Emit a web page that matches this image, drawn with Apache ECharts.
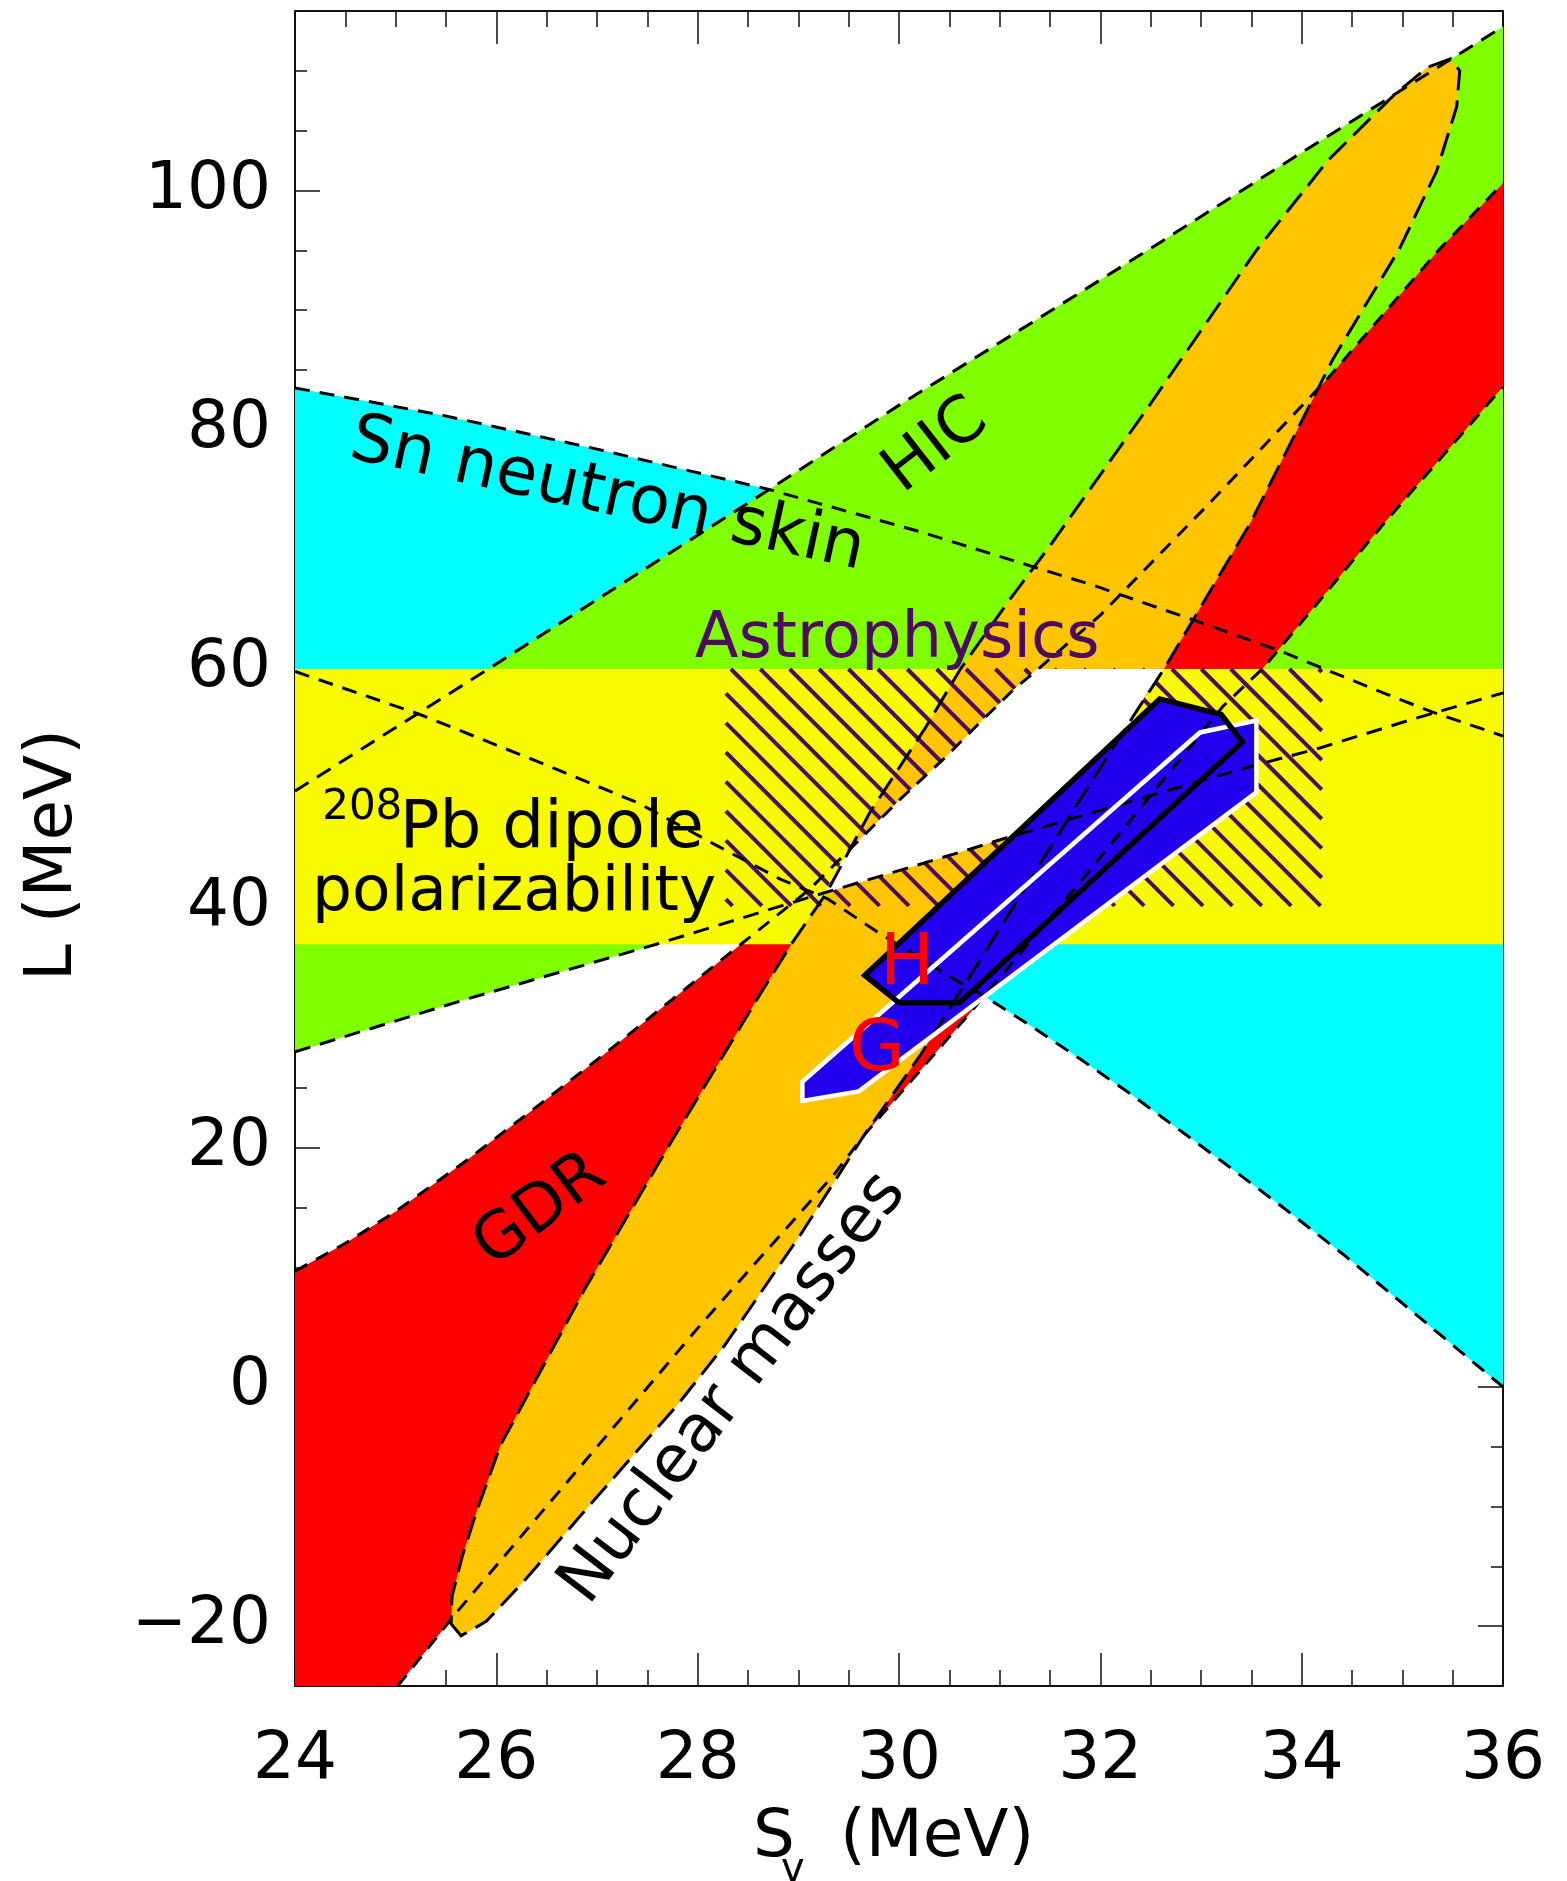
<!DOCTYPE html>
<html><head><meta charset="utf-8">
<script src="https://cdn.jsdelivr.net/npm/echarts@6/dist/echarts.min.js"></script>
<style>html,body{margin:0;padding:0;background:#fff}#c{width:1567px;height:1881px}</style>
</head><body><div id="c"></div>
<script>
// ---------------- data (S_v, L) in MeV ----------------
const xRange = [24, 36];
const yRange = [-25, 115];
const xMajorTicks = [24, 26, 28, 30, 32, 34, 36];
const yMajorTicks = [-20, 0, 20, 40, 60, 80, 100];

// Sn neutron skin band (upper / lower boundary)
const snUpper = [[24,83.5],[25.47,81.2],[26.99,78.4],[28.71,75.0],[30.2,71.5],[31.35,68.5],[31.93,67.0],[32.89,64.2],[33.82,61.4],[34.81,58.0],[35.3,56.4],[36,54.4]];
const snLower = [[24,59.8],[25.24,56.2],[26.4,52.3],[27.41,48.8],[28.2,45.2],[28.83,42.4],[29.29,40.8],[29.79,38.0],[30.54,34.1],[30.84,32.7],[31.36,29.9],[31.8,27.4],[32.28,24.6],[32.75,21.7],[33.2,18.9],[33.8,15.1],[34.41,11.1],[35.2,5.6],[36,0]];
// HIC band
const hicUpper = [[24,49.8],[25.92,60.0],[28.71,75.0],[30.01,82.1],[31.5,89.9],[32.49,95.1],[33.95,102.9],[36,113.7]];
const hicLower = [[24,28.0],[25.7,32.4],[27.59,37.0],[28.83,40.2],[29.26,41.3],[29.94,43.0],[30.61,44.7],[31.07,45.9],[33.51,51.9],[34.18,53.4],[35.1,55.8],[36,58.0]];
// 208Pb dipole polarizability band (L range)
const pbBand = [37, 60];
// GDR band
const gdrUpper = [[24,9.67],[24.5,12.0],[24.99,14.6],[25.7,18.9],[26.46,23.8],[27.1,28.0],[27.75,32.4],[28.43,37.0],[29.1,41.5],[29.58,45.5],[30.01,49.1],[30.47,52.7],[30.8,55.5],[31.14,58.3],[31.37,59.9],[32.0,64.5],[33.1,74.0],[34.25,84.2],[35.37,95.1],[36,100.6]];
const gdrLower = [[25.02,-25],[25.62,-18.7],[28.02,5.1],[29.35,17.7],[29.65,21.0],[30.71,31.3],[31.8,42.2],[33.22,56.9],[33.62,60.1],[34.81,72.1],[36,83.6]];
// Nuclear masses contour (left side bottom->top, right side top->bottom)
const massLeft = [[25.65,-20.8],[25.55,-19.8],[25.56,-17.5],[25.66,-14.2],[25.8,-10.5],[26.04,-4.9],[26.88,8.2],[27.71,20.1],[28.59,32.4],[28.93,37.0],[29.28,41.3],[29.71,48.0],[30.27,55.2],[30.61,60.0],[31.1,65.8],[31.5,70.3],[32.46,81.7],[33.55,95.0],[34.26,102.5],[34.92,108.0],[35.25,110.3],[35.48,111.0]];
const massRight = [[35.57,110.0],[35.54,107.0],[35.34,101.6],[34.97,95.1],[34.31,85.9],[33.49,72.2],[32.64,60.1],[32.33,56.1],[31.8,49.1],[31.0,38.3],[30.21,27.7],[29.65,21.0],[29.02,12.7],[28.27,3.5],[27.8,-1.5],[27.3,-6.3],[26.75,-11.6],[26.3,-16.0],[25.9,-19.6]];
// region allowed by all experiments
const overlap = [[29.26,41.3],[29.4,43.5],[29.58,45.5],[30.01,49.1],[30.47,52.7],[30.8,55.5],[31.14,58.3],[31.37,60.0],[32.63,60.0],[32.46,58.0],[32.34,56.1],[32.6,52.0],[31.6,46.0],[31.07,45.9],[30.61,44.7],[29.94,43.0]];
// Astrophysics (hatched)
const astroX = [28.28, 34.2];
const astroY = [40.2, 60];
// G and H regions
const regionG = [[29.04,25.5],[32.99,54.7],[33.55,55.7],[33.55,49.7],[29.6,24.7],[29.04,23.9]];
const regionH = [[29.66,34.4],[30.0,32.1],[30.6,32.1],[33.41,53.9],[33.2,56.2],[32.59,57.5]];

// text annotations
const labels = [
  {t:'Sn neutron skin', x:27.1, y:74.45, rot:-12.3, size:67, color:'#000', align:'center'},
  {t:'HIC', x:30.37, y:78.6, rot:38, size:64, color:'#000', align:'center'},
  {t:'Astrophysics', x:27.97, y:62.4, rot:0, size:64, color:'#4d0b5f', align:'left'},
  {t:'208', x:24.27, y:48.4, rot:0, size:42, color:'#000', align:'left'},
  {t:'Pb dipole', x:25.04, y:46.55, rot:0, size:66, color:'#000', align:'left'},
  {t:'polarizability', x:24.17, y:41.25, rot:0, size:63, color:'#000', align:'left'},
  {t:'GDR', x:26.44, y:14.7, rot:37, size:65, color:'#000', align:'center'},
  {t:'Nuclear masses', x:28.36, y:-0.15, rot:52.5, size:66, color:'#000', align:'center'},
  {t:'H', x:30.08, y:35.2, rot:0, size:72, color:'#ff0000', align:'center'},
  {t:'G', x:29.78, y:28.05, rot:0, size:72, color:'#ff0000', align:'center'}
];

// ---------------- styles ----------------
const FONT = 'DejaVu Sans';
const FW = 'normal';
const C = {cyan:'#00ffff', green:'#80ff00', yellow:'#f8fa00', red:'#ff0000', orange:'#ffc500', blue:'#2200ee', purple:'#4d0b5f'};
const AX = '#111';

function rev(a){ return a.slice().reverse(); }

function polygonSeries(pts, style, z){
  return {type:'custom', coordinateSystem:'cartesian2d', xAxisIndex:0, yAxisIndex:0, clip:true, silent:true, z:z,
    data:[[pts[0][0], pts[0][1]]],
    renderItem:function(params, api){
      return {type:'polygon', shape:{points: pts.map(function(p){return api.coord(p);})}, style:style};
    }};
}
function lineSeries(pts, dash, z, closed){
  return {type:'custom', coordinateSystem:'cartesian2d', xAxisIndex:0, yAxisIndex:0, clip:true, silent:true, z:z,
    data:[[pts[0][0], pts[0][1]]],
    renderItem:function(params, api){
      const p = pts.map(function(q){return api.coord(q);});
      return {type: closed ? 'polygon' : 'polyline', shape:{points:p},
        style:{fill:null, stroke:'#000', lineWidth:3, lineDash:dash}};
    }};
}

const series = [];
// fills, bottom to top
series.push(polygonSeries(snUpper.concat(rev(snLower)), {fill:C.cyan}, 1));
series.push(polygonSeries(hicUpper.concat(rev(hicLower)), {fill:C.green}, 2));
series.push(polygonSeries(gdrUpper.concat([[36,gdrUpper[gdrUpper.length-1][1]]], rev(gdrLower), [[24,-25]]), {fill:C.red}, 3));
series.push(polygonSeries([[xRange[0],pbBand[0]],[xRange[1],pbBand[0]],[xRange[1],pbBand[1]],[xRange[0],pbBand[1]]], {fill:C.yellow}, 4));
series.push(polygonSeries(massLeft.concat(massRight), {fill:C.orange}, 5));
// hatch
series.push({type:'custom', coordinateSystem:'cartesian2d', xAxisIndex:0, yAxisIndex:0, clip:true, silent:true, z:6,
  data:[[astroX[0], astroY[0]]],
  renderItem:function(params, api){
    const tl = api.coord([astroX[0], astroY[1]]);
    const br = api.coord([astroX[1], astroY[0]]);
    const left = tl[0], top = tl[1], right = br[0], bottom = br[1];
    const h = bottom - top, step = 29.4;
    const kids = [];
    for (let c = left + 5 - Math.ceil(h/step)*step; c < right; c += step){
      const t0 = Math.max(0, left - c), t1 = Math.min(h, right - c);
      if (t1 > t0) kids.push({type:'line', shape:{x1:c+t0, y1:top+t0, x2:c+t1, y2:top+t1}, style:{stroke:C.purple, lineWidth:4}});
    }
    return {type:'group', children:kids};
  }});
series.push(polygonSeries(overlap, {fill:'#ffffff'}, 7));
series.push(polygonSeries(regionH, {fill:C.blue}, 8));
series.push(polygonSeries(regionG, {fill:C.blue}, 9));
// dashed boundaries
series.push(lineSeries(snUpper, [15,10], 10));
series.push(lineSeries(snLower, [15,10], 10));
series.push(lineSeries(hicUpper, [16,10], 10));
series.push(lineSeries(hicLower, [16,10], 10));
series.push(lineSeries(gdrUpper, [14,10], 10));
series.push(lineSeries(gdrLower, [14,10], 10));
series.push(lineSeries(massLeft.concat(massRight), [24,10], 10, true));
// outlines of G and H
series.push({type:'custom', coordinateSystem:'cartesian2d', xAxisIndex:0, yAxisIndex:0, clip:true, silent:true, z:11,
  data:[[regionG[0][0], regionG[0][1]]],
  renderItem:function(params, api){
    return {type:'polygon', shape:{points: regionG.map(function(p){return api.coord(p);})}, style:{fill:null, stroke:'#fff', lineWidth:4.5}};
  }});
series.push({type:'custom', coordinateSystem:'cartesian2d', xAxisIndex:0, yAxisIndex:0, clip:true, silent:true, z:12,
  data:[[regionH[0][0], regionH[0][1]]],
  renderItem:function(params, api){
    return {type:'polygon', shape:{points: regionH.map(function(p){return api.coord(p);})}, style:{fill:null, stroke:'#000', lineWidth:5.5, lineJoin:'miter'}};
  }});
// labels
series.push({type:'custom', coordinateSystem:'cartesian2d', xAxisIndex:0, yAxisIndex:0, clip:false, silent:true, z:13,
  data: labels.map(function(l, i){ return [l.x, l.y, i]; }),
  renderItem:function(params, api){
    const l = labels[params.dataIndex];
    const p = api.coord([l.x, l.y]);
    return {type:'text', x:p[0], y:p[1], rotation: l.rot*Math.PI/180,
      style:{text:l.t, fontSize:l.size, fontFamily:FONT, fontWeight:FW, fill:l.color, align:l.align, verticalAlign:'middle'}};
  }});

function fmt(v){ return v < 0 ? '\u2212' + Math.abs(v) : String(v); }
function xAx(pos, interval, len, showLine, showLabel){
  return {type:'value', position:pos, min:xRange[0], max:xRange[1], interval:interval,
    axisLine:{show:showLine, onZero:false, lineStyle:{color:AX, width:2}},
    axisTick:{show:true, inside:true, length:len, lineStyle:{color:AX, width:1.5}},
    axisLabel:{show:showLabel, margin:42, fontSize:66, fontFamily:FONT, fontWeight:FW, color:'#000', showMinLabel:true, showMaxLabel:true, formatter:fmt},
    splitLine:{show:false}};
}
function yAx(pos, len, showLine, showLabel, custom){
  const a = {type:'value', position:pos, min:yRange[0], max:yRange[1],
    axisLine:{show:showLine, onZero:false, lineStyle:{color:AX, width:2}},
    axisTick:{show:true, inside:true, length:len, lineStyle:{color:AX, width:1.5}},
    axisLabel:{show:showLabel, margin:24, fontSize:66, fontFamily:FONT, fontWeight:FW, color:'#000', formatter:fmt},
    splitLine:{show:false}};
  if (custom) { a.axisTick.customValues = yMajorTicks; a.axisLabel.customValues = yMajorTicks; }
  else { a.interval = 5; }
  return a;
}

const option = {
  animation:false,
  backgroundColor:'#fff',
  grid:{left:295, right:64, top:11, bottom:195, containLabel:false},
  xAxis:[ xAx('bottom',2,33,true,true), xAx('bottom',0.5,16,false,false), xAx('top',2,33,true,false), xAx('top',0.5,16,false,false) ],
  yAxis:[ yAx('left',25,true,true,true), yAx('left',12,false,false,false), yAx('right',25,true,false,true), yAx('right',12,false,false,false) ],
  series: series,
  graphic:[
    {type:'text', x:753, y:1839, style:{text:'S', fontSize:66, fontFamily:FONT, fontWeight:FW, fill:'#000', align:'left', verticalAlign:'middle'}},
    {type:'text', x:781, y:1871, style:{text:'v', fontSize:40, fontFamily:FONT, fontWeight:FW, fill:'#000', align:'left', verticalAlign:'middle'}},
    {type:'text', x:840, y:1839, style:{text:'(MeV)', fontSize:66, fontFamily:FONT, fontWeight:FW, fill:'#000', align:'left', verticalAlign:'middle'}},
    {type:'text', x:54, y:855, rotation:Math.PI/2, style:{text:'L (MeV)', fontSize:66, fontFamily:FONT, fontWeight:FW, fill:'#000', align:'center', verticalAlign:'middle'}}
  ]
};
const chart = echarts.init(document.getElementById('c'), null, {renderer:'canvas'});
chart.setOption(option);
</script>
</body></html>
